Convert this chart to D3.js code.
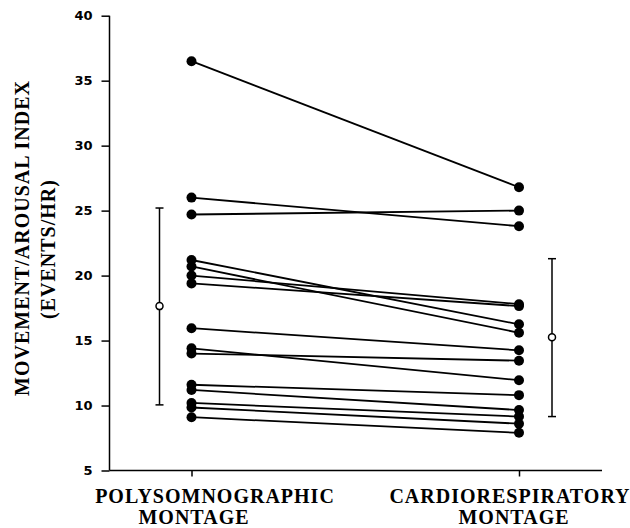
<!DOCTYPE html>
<html>
<head>
<meta charset="utf-8">
<script src="https://cdn.jsdelivr.net/npm/d3@7"></script>
<style>
	body {margin:0; background:#fff;}
	.tick_lbl {font-family:"DejaVu Sans"; font-weight:bold; font-size:13px;}
	.title_lbl {font-family:"Liberation Serif"; font-weight:bold; font-size:20px; letter-spacing:1px;}
</style>
</head>
<body>
<svg id="chart" width="630" height="528"></svg>
<script>
"use strict";

// categories (two montages)
var categories = ["PSG", "CRM"];
var category_lines = [["POLYSOMNOGRAPHIC", "MONTAGE"], ["CARDIORESPIRATORY", "MONTAGE"]];

// per subject index, same order in both arrays
var psg_values = [36.5, 26.0, 24.7, 21.2, 20.7, 20.0, 19.4, 15.95, 14.4, 14.0, 11.6, 11.2, 10.2, 9.85, 9.1];
var crm_values = [26.8, 23.8, 25.0, 16.25, 15.6, 17.8, 17.65, 14.25, 11.95, 13.45, 10.8, 9.65, 9.15, 8.6, 7.9];

// mean and +/- SD
var group_mean = [17.65, 15.25];
var group_low = [10.05, 9.15];
var group_high = [25.2, 21.3];

var y_ticks = [5, 10, 15, 20, 25, 30, 35, 40];

var svg = d3.select("#chart");

var y = d3.scaleLinear().domain([5, 40]).range([470.5, 15.7]);
var x = d3.scalePoint().domain(categories).range([191.5, 519]);
var bar_offset = {"PSG": -32, "CRM": 33};

/////////////////////////////////////////
// y axis
var y_axis = svg.append("g")
	.attr("transform", "translate(109.5,0)")
	.call(d3.axisLeft(y).tickValues(y_ticks).tickSize(8).tickPadding(9));
y_axis.selectAll("text").attr("class", "tick_lbl").attr("fill", "#000");
y_axis.selectAll("line,path").attr("stroke", "#000").attr("stroke-width", 1.5);
y_axis.select(".domain").attr("d", "M0," + y(40) + "V" + y(5));

// x axis: line runs past the right category
var x_axis = svg.append("g")
	.attr("transform", "translate(0," + (y(5)) + ")")
	.call(d3.axisBottom(x).tickSize(6).tickFormat(""));
x_axis.select(".domain").attr("d", "M109.5,0H602");
x_axis.selectAll("line,path").attr("stroke", "#000").attr("stroke-width", 1.5);

// category labels on two lines
var label_pos = {"PSG": [[215, 503], [194, 524]], "CRM": [[510, 503], [514, 524]]};
categories.forEach(function(c, i){
	category_lines[i].forEach(function(t, j){
		svg.append("text").attr("class", "title_lbl")
			.attr("x", label_pos[c][j][0]).attr("y", label_pos[c][j][1])
			.attr("text-anchor", "middle")
			.text(t);
	});
});

// y title
svg.append("text").attr("class", "title_lbl")
	.attr("transform", "translate(29,238) rotate(-90)")
	.attr("text-anchor", "middle")
	.text("MOVEMENT/AROUSAL INDEX");
svg.append("text").attr("class", "title_lbl")
	.attr("transform", "translate(55,249) rotate(-90)")
	.attr("text-anchor", "middle")
	.text("(EVENTS/HR)");

/////////////////////////////////////////
// subject lines + dots
var pairs = psg_values.map(function(v, i){ return [v, crm_values[i]]; });

svg.append("g").selectAll("line").data(pairs).enter().append("line")
	.attr("x1", x("PSG")).attr("x2", x("CRM"))
	.attr("y1", function(d){ return y(d[0]); })
	.attr("y2", function(d){ return y(d[1]); })
	.attr("stroke", "#000").attr("stroke-width", 1.8);

categories.forEach(function(c, i){
	var vals = i == 0 ? psg_values : crm_values;
	svg.append("g").selectAll("circle").data(vals).enter().append("circle")
		.attr("cx", x(c)).attr("cy", function(d){ return y(d); })
		.attr("r", 5).attr("fill", "#000");
});

/////////////////////////////////////////
// mean +/- SD bars
categories.forEach(function(c, i){
	var bx = x(c) + bar_offset[c];
	var g = svg.append("g").attr("stroke", "#000").attr("stroke-width", 1.5);
	g.append("line").attr("x1", bx).attr("x2", bx)
		.attr("y1", y(group_high[i])).attr("y2", y(group_low[i]));
	[group_high[i], group_low[i]].forEach(function(v){
		g.append("line").attr("x1", bx - 4).attr("x2", bx + 4)
			.attr("y1", y(v)).attr("y2", y(v));
	});
	g.append("circle").attr("cx", bx).attr("cy", y(group_mean[i]))
		.attr("r", 3.5).attr("fill", "#fff");
});
</script>
</body>
</html>
